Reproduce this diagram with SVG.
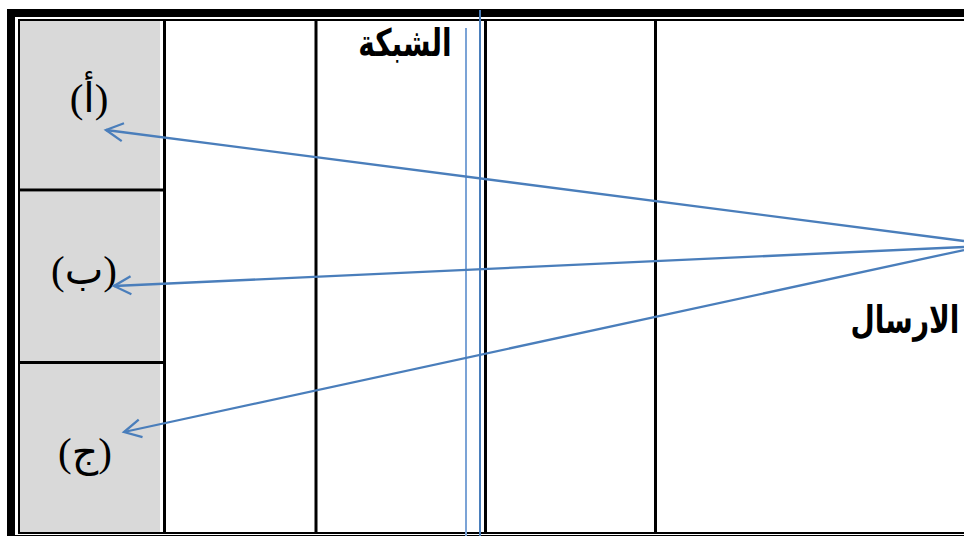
<svg xmlns="http://www.w3.org/2000/svg" width="964" height="536" viewBox="0 0 964 536">
<style>
.frame{fill:none;stroke:#000}
.col{stroke:#000;stroke-width:3}
.cell{fill:#D9D9D9}
.lbl{font-family:"Liberation Serif","DejaVu Sans",serif;font-size:41px;fill:#000;text-anchor:middle}
.head{font-family:"DejaVu Sans","Liberation Sans",sans-serif;font-size:28px;font-weight:bold;fill:#000;text-anchor:middle}
.conn{stroke:#4A7EBB;stroke-width:2.3;fill:none}
</style>
<defs>
<marker id="ah" markerUnits="userSpaceOnUse" markerWidth="24" markerHeight="24" viewBox="0 0 24 24" refX="20" refY="12" orient="auto">
<path d="M3,3 L20,12 L3,21" fill="none" stroke="#4A7EBB" stroke-width="2.3"/>
</marker>
</defs>
<rect x="0" y="0" width="964" height="536" fill="#fff"/>
<g id="frame">
<rect class="frame" x="11" y="13" width="970" height="526" stroke-width="8"/>
<rect class="frame" x="19" y="20" width="960" height="513" stroke-width="2"/>
</g>
<g id="cell-a">
<rect class="cell" x="20" y="21" width="140" height="168"/>
<text class="lbl" x="89" y="112">(أ)</text>
</g>
<g id="cell-b">
<rect class="cell" x="20" y="192" width="140" height="169"/>
<text class="lbl" x="84" y="284">(ب)</text>
</g>
<g id="cell-c">
<rect class="cell" x="20" y="364" width="140" height="168"/>
<text class="lbl" x="85" y="466">(ج)</text>
</g>
<g id="grid">
<line class="col" x1="19" y1="190" x2="164" y2="190"/>
<line class="col" x1="19" y1="362.5" x2="164" y2="362.5"/>
<line class="col" x1="164.5" y1="21" x2="164.5" y2="533"/>
<line class="col" x1="316" y1="21" x2="316" y2="533"/>
<line class="col" x1="485.5" y1="21" x2="485.5" y2="533"/>
<line class="col" x1="655.5" y1="21" x2="655.5" y2="533"/>
</g>
<g id="network">
<line x1="466" y1="28" x2="466" y2="536" stroke="#7BA3D6" stroke-width="2"/>
<line x1="480" y1="10" x2="480" y2="536" stroke="#4A7EBB" stroke-width="2"/>
<text class="head" transform="translate(405,56) scale(1,1.35)" x="0" y="0">الشبكة</text>
</g>
<g id="sender">
<text class="head" transform="translate(905,333) scale(1,1.35)" x="0" y="0">الارسال</text>
</g>
<g id="connectors">
<line class="conn" x1="964" y1="241" x2="106" y2="130" marker-end="url(#ah)"/>
<line class="conn" x1="964" y1="247" x2="114" y2="286" marker-end="url(#ah)"/>
<line class="conn" x1="964" y1="250" x2="124" y2="432" marker-end="url(#ah)"/>
</g>
</svg>
